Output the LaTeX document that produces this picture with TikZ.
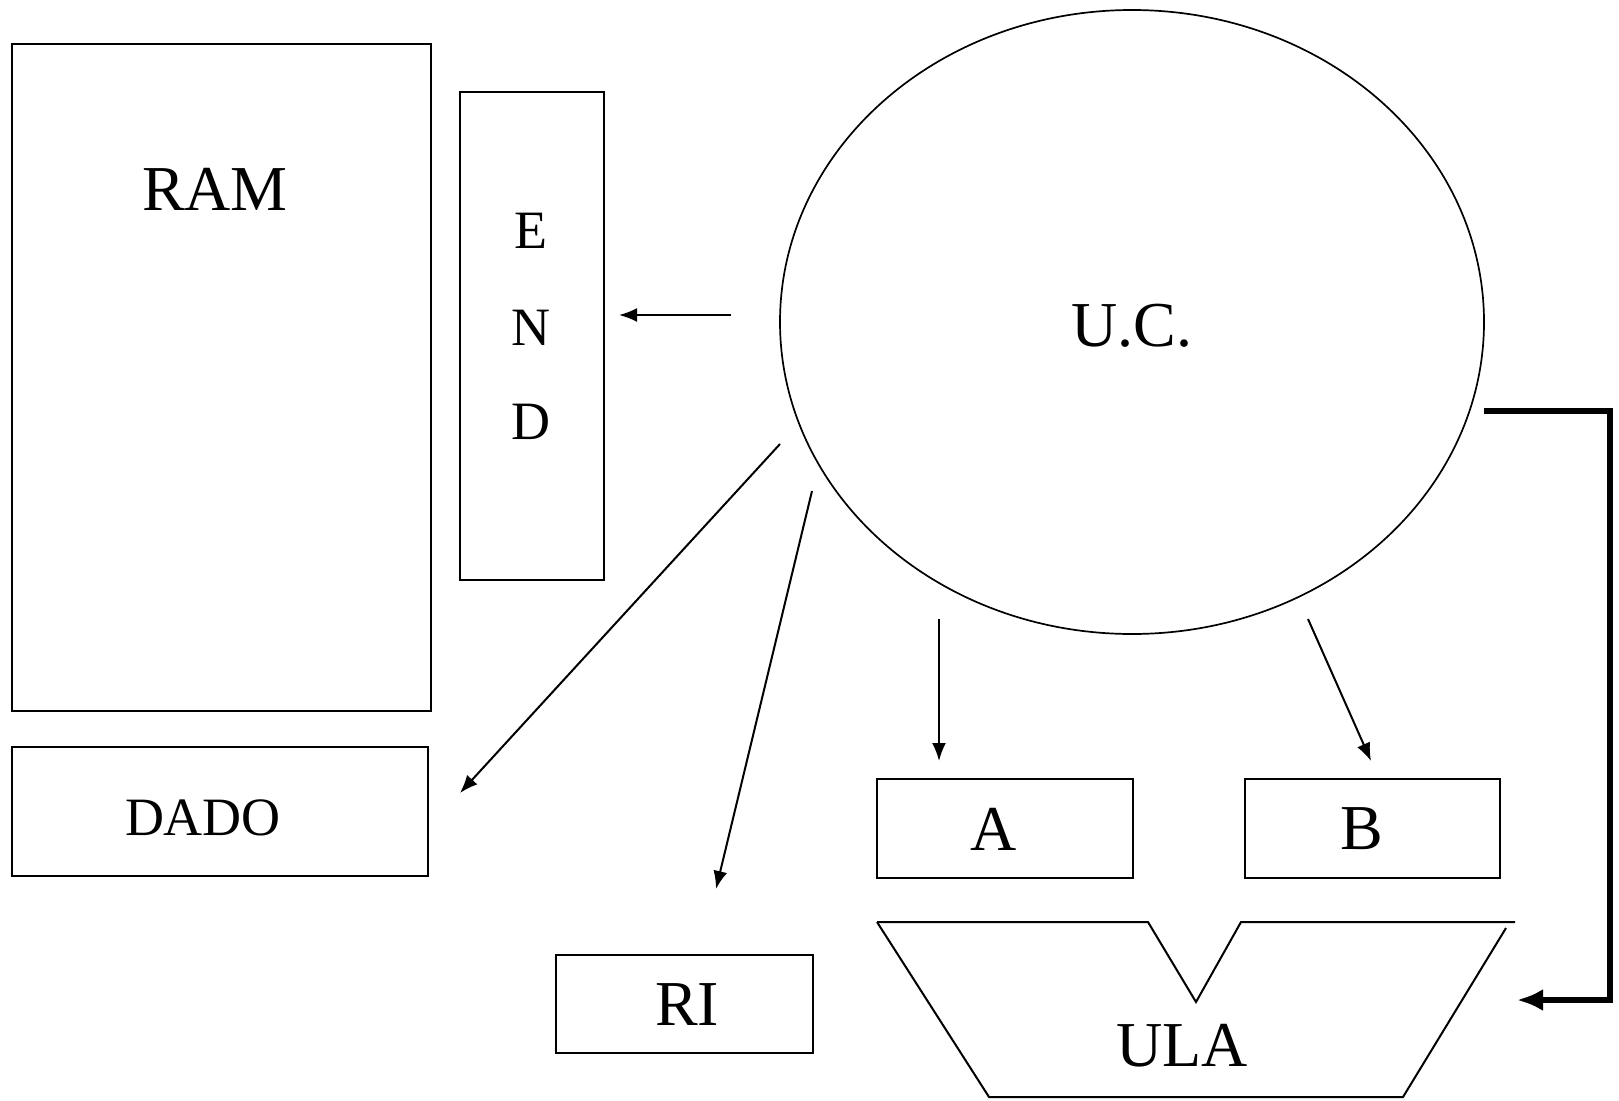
\documentclass[tikz,border=0pt]{standalone}
\usepackage{fontspec}
\setmainfont{Liberation Serif}
\usetikzlibrary{arrows.meta, shapes.geometric}
\begin{document}
\begin{tikzpicture}[x=1pt, y=-1pt,
  box/.style={draw, line width=2pt, inner sep=0pt, anchor=north west},
  lbl/.style={inner sep=0pt, font=\fontsize{64}{64}\selectfont},
  smalllbl/.style={inner sep=0pt, font=\fontsize{54}{54}\selectfont},
  thinarrow/.style={line width=2pt, -{Latex[length=18pt,width=14pt]}},
  heavyarrow/.style={line width=6pt, -{Latex[length=26pt,width=22pt]}}]
\useasboundingbox (0,0) rectangle (1619,1100);

% memory and its registers
\node[box, minimum width=419pt, minimum height=667pt] (ram) at (11,43) {};
\node[lbl] (ramtext) at (215,189) {RAM};
\node[box, minimum width=144pt, minimum height=488pt] (end) at (459,91) {};
\node[smalllbl] (ende) at (531,231) {E};
\node[smalllbl] (endn) at (531,328) {N};
\node[smalllbl] (endd) at (531,422) {D};
\node[box, minimum width=416pt, minimum height=129pt] (dado) at (11,746) {};
\node[smalllbl] (dadotext) at (203,818) {DADO};

% instruction register and operand registers
\node[box, minimum width=257pt, minimum height=98pt] (ri) at (555,954) {};
\node[lbl] (ritext) at (687,1005) {RI};
\node[box, minimum width=256pt, minimum height=99pt] (rega) at (876,778) {};
\node[lbl] (ratext) at (994,829) {A};
\node[box, minimum width=255pt, minimum height=99pt] (regb) at (1244,778) {};
\node[lbl] (rbtext) at (1362,829) {B};

% control unit
\node[draw, ellipse, line width=1.7pt, inner sep=0pt,
      minimum width=704pt, minimum height=624pt] (uc) at (1132,322) {};
\node[lbl] (uctext) at (1132,326) {U.C.};

% arithmetic logic unit
\draw[line width=2pt] (877,922) -- (1148,922) -- (1196,1002) -- (1241,922) -- (1515,922);
\draw[line width=2pt] (877,922) -- (989,1097) -- (1403,1097) -- (1506,928);
\node[lbl] (ula) at (1182,1046) {ULA};

% control signals
\coordinate (s1) at (731,315);  \coordinate (t1) at (619,315);
\coordinate (s2) at (780,444);  \coordinate (t2) at (460,793);
\coordinate (s3) at (812,491);  \coordinate (t3) at (716,889);
\coordinate (s4) at (939,619);  \coordinate (t4) at (939,761);
\coordinate (s5) at (1308,619); \coordinate (t5) at (1371,761);
\draw[thinarrow] (s1) -- (t1);
\draw[thinarrow] (s2) -- (t2);
\draw[thinarrow] (s3) -- (t3);
\draw[thinarrow] (s4) -- (t4);
\draw[thinarrow] (s5) -- (t5);

\coordinate (s6) at (1484,411); \coordinate (t6) at (1517,1000);
\draw[heavyarrow] (s6) -- (1610,411) -- (1610,1000) -- (t6);
\end{tikzpicture}
\end{document}
